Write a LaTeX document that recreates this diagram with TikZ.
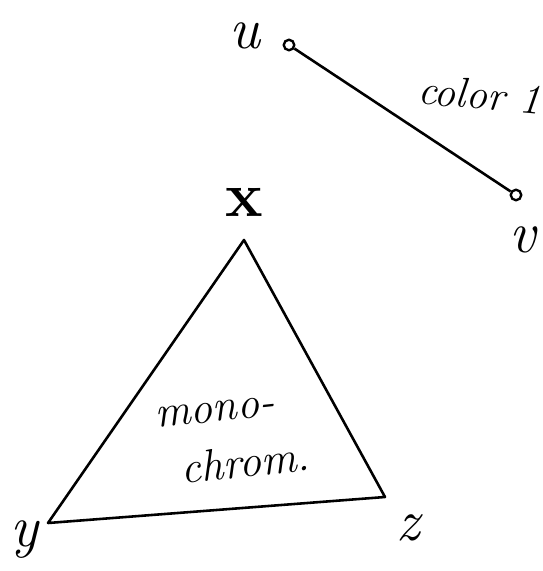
\documentclass[tikz,border=0pt]{standalone}
\usepackage{fontspec}
\begin{document}
\begin{tikzpicture}[x=0.03cm,y=-0.03cm,
  vdot/.style={circle,draw,line width=2pt,inner sep=0pt,minimum size=9pt},
  lbl/.style={font=\fontsize{50}{52}\selectfont\itshape,inner sep=0pt},
  txt/.style={font=\fontsize{38}{40}\selectfont\itshape,inner sep=0pt,rotate=6},
  edge/.style={line width=2.2pt}]
\useasboundingbox (0,0) rectangle (543,571);
\node[vdot] (u) at (289,45) {};
\node[vdot] (v) at (516,195) {};
\node[lbl] (ul) at (245,36) {u};
\node[lbl] (vl) at (523,240) {v};
\draw[edge] (u) -- (v);
\node[font=\fontsize{36}{38}\selectfont\itshape,inner sep=0pt,rotate=-5,anchor=east] (c) at (541,100) {color 1};
\coordinate (X) at (244,240);
\coordinate (Y) at (48,523);
\coordinate (Z) at (385,497);
\draw[edge,line join=round] (X) -- (Y) -- (Z) -- cycle;
\node[font=\fontsize{54}{56}\selectfont\bfseries,inner sep=0pt] (xl) at (244,202) {x};
\node[lbl] (yl) at (24,540) {y};
\node[lbl] (zl) at (408,528) {z};
\node[txt] (m1) at (215,412) {mono-};
\node[txt] (m2) at (245,462) {chrom.};
\end{tikzpicture}
\end{document}
